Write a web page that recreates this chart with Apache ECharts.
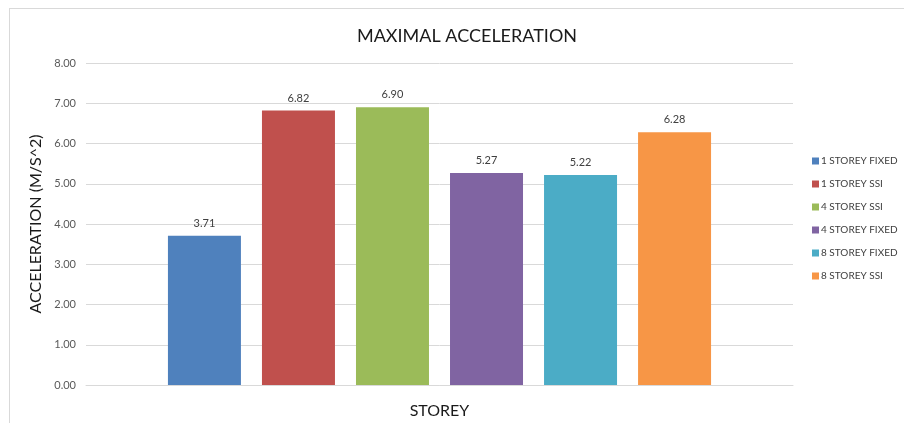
<!DOCTYPE html>
<html>
<head>
<meta charset="utf-8">
<script src="https://cdn.jsdelivr.net/npm/echarts@6/dist/echarts.min.js"></script>
<style>
  html, body { margin: 0; padding: 0; background: #fff; }
  #frame { position: absolute; left: 9px; top: 8px; width: 920px; height: 430px;
           border-left: 1px solid #d9d9d9; border-top: 1px solid #d9d9d9; }
  #chart { position: absolute; left: 0; top: 0; width: 904px; height: 423px; }
</style>
</head>
<body>
<div id="frame"></div>
<div id="chart"></div>
<script>
// Peak acceleration per building configuration (m/s^2)
const categories = [''];
const seriesNames = ['1 STOREY FIXED', '1 STOREY SSI', '4 STOREY SSI', '4 STOREY FIXED', '8 STOREY FIXED', '8 STOREY SSI'];
const seriesValues = [3.71, 6.82, 6.90, 5.27, 5.22, 6.28];
const seriesColors = ['#4F81BD', '#C0504D', '#9BBB59', '#8064A2', '#4BACC6', '#F79646'];

const font = 'Lato, "Open Sans", sans-serif';

const chart = echarts.init(document.getElementById('chart'));
chart.setOption({
  animation: false,
  backgroundColor: 'transparent',
  title: {
    text: 'MAXIMAL ACCELERATION',
    left: 462, top: 22, textAlign: 'center',
    textStyle: { fontFamily: font, fontSize: 18, fontWeight: 'normal', color: '#1a1a1a' }
  },
  legend: {
    orient: 'vertical',
    left: 807, top: 151,
    itemWidth: 7, itemHeight: 7, itemGap: 13,
    icon: 'rect',
    textStyle: { fontFamily: font, fontSize: 10, color: '#404040', padding: [0, 0, 0, -3] },
    data: seriesNames
  },
  grid: { left: 86, right: 111, top: 63, bottom: 38, outerBoundsMode: 'none', containLabel: false },
  xAxis: {
    type: 'category',
    data: categories,
    name: 'STOREY',
    nameLocation: 'middle',
    nameGap: 18,
    nameTextStyle: { fontFamily: font, fontSize: 16, color: '#1a1a1a' },
    axisLine: { lineStyle: { color: '#d9d9d9', width: 1 } },
    axisTick: { show: false },
    axisLabel: { show: false }
  },
  yAxis: {
    type: 'value',
    min: 0, max: 8, interval: 1,
    name: 'ACCELERATION (M/S^2)',
    nameLocation: 'middle',
    nameGap: 42,
    nameTextStyle: { fontFamily: font, fontSize: 16, color: '#1a1a1a' },
    axisLine: { show: false },
    axisTick: { show: false },
    axisLabel: {
      fontFamily: font, fontSize: 11, color: '#595959', margin: 10,
      formatter: v => v.toFixed(2)
    },
    splitLine: { lineStyle: { color: '#d9d9d9', width: 1 } }
  },
  series: seriesNames.map((name, i) => ({
    name: name,
    type: 'bar',
    barWidth: 73,
    barGap: '28.8%',
    data: [seriesValues[i]],
    itemStyle: { color: seriesColors[i] },
    label: {
      show: true, position: 'top', distance: 7,
      fontFamily: font, fontSize: 11, color: '#404040',
      formatter: p => p.value.toFixed(2)
    }
  }))
});
</script>
</body>
</html>
